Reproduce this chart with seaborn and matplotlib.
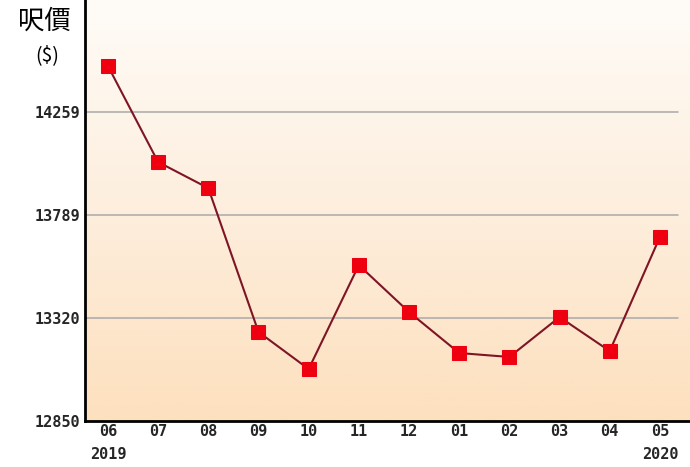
import numpy as np
import pandas as pd
import seaborn as sns
import matplotlib.pyplot as plt
from matplotlib.colors import LinearSegmentedColormap

# data
months = ["06", "07", "08", "09", "10", "11", "12", "01", "02", "03", "04", "05"]
prices = [14469, 14031, 13912, 13256, 13087, 13561, 13347, 13160, 13142, 13324, 13169, 13689]
yticks = [12850, 13320, 13789, 14259]
years = {0: "2019", 11: "2020"}

df = pd.DataFrame({"pos": range(len(months)), "price": prices})

sns.set_style("white")
plt.rcParams['font.family'] = ['Noto Sans CJK TC', 'DejaVu Sans']

fig = plt.figure(figsize=(6.9, 4.67), dpi=100)
ax = fig.add_axes([0.123, 0.0985, 0.877, 0.9015])

ylo, yhi = 12850, 14770
xlo, xhi = -0.46, 11.6

# background gradient, white at top to peach at bottom
cmap = LinearSegmentedColormap.from_list("bg", ["#fde0be", "#fdeedd", "#fffcf8"])
grad = np.linspace(0, 1, 256).reshape(-1, 1)
ax.imshow(grad, aspect="auto", cmap=cmap, origin="lower",
          extent=[xlo, xhi, ylo, yhi], zorder=0)

for t in yticks[1:]:
    ax.axhline(t, xmin=0, xmax=0.98, color="#a9a9a9", lw=1.1, zorder=1)

sns.lineplot(data=df, x="pos", y="price", ax=ax, color="#7e1525", lw=1.5,
             marker="s", markersize=9.5, markerfacecolor="#ee0010",
             markeredgecolor="#ee0010", zorder=3)

ax.set_xlim(xlo, xhi)
ax.set_ylim(ylo, yhi)
ax.set_xlabel("")
ax.set_ylabel("")

mono = {"family": "DejaVu Sans Mono", "weight": "bold", "size": 11}
ax.set_yticks(yticks)
ax.set_yticklabels([str(t) for t in yticks], fontdict=mono)
ax.set_xticks(range(len(months)))
ax.set_xticklabels(months, fontdict=mono)
ax.tick_params(axis="both", length=0, pad=3)
ax.tick_params(axis="x", pad=2)

for i, yr in years.items():
    ax.text(i, -0.062, yr, transform=ax.get_xaxis_transform(), ha="center",
            va="top", **mono)

for side in ["top", "right"]:
    ax.spines[side].set_visible(False)
for side in ["left", "bottom"]:
    ax.spines[side].set_color("black")
    ax.spines[side].set_linewidth(2)

fig.text(0.064, 0.955, "呎價", ha="center", va="center", fontsize=19,
         family=["Noto Sans CJK TC", "DejaVu Sans"], color="black")
fig.text(0.068, 0.88, "($)", ha="center", va="center", fontsize=14,
         family=["Noto Sans CJK TC", "DejaVu Sans"], color="black")

fig.savefig("out.png", dpi=100)
